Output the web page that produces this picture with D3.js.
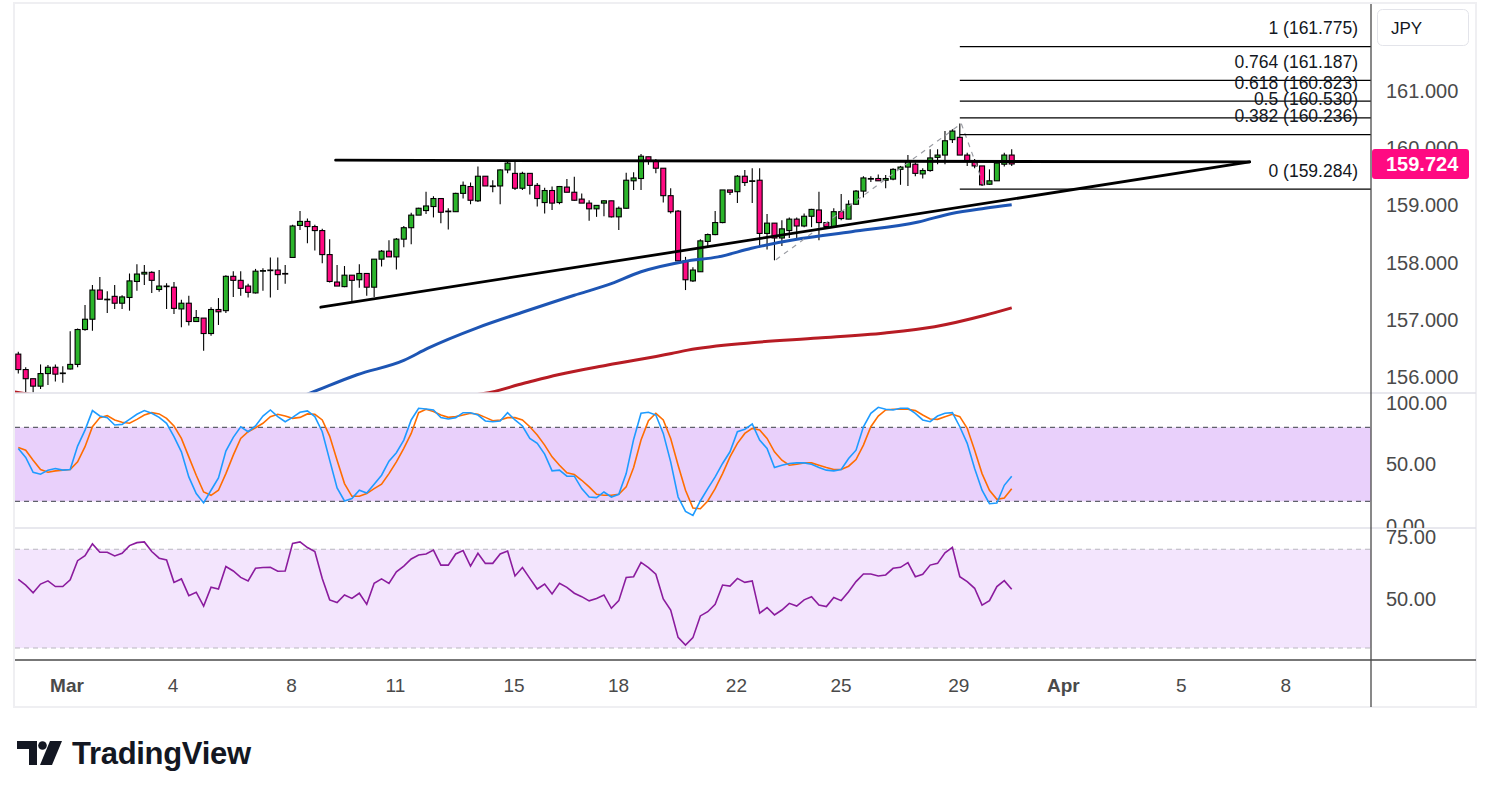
<!DOCTYPE html>
<html>
<head>
<meta charset="utf-8">
<script src="https://cdnjs.cloudflare.com/ajax/libs/d3/7.8.5/d3.min.js"></script>
<style>
  body { margin: 0; background: #fff; }
  svg { display: block; font-family: "Liberation Sans", Arial, sans-serif; }
</style>
</head>
<body>
<div id="chart"></div>
<script>
// Candles, one per bar
var opens = [156.40,156.13,155.97,155.84,156.06,156.17,156.06,156.14,156.22,156.83,
  157.01,157.52,157.36,157.41,157.29,157.39,157.67,157.80,157.83,157.53,
  157.58,157.57,157.19,157.29,156.97,157.03,156.76,157.18,157.16,157.76,
  157.69,157.59,157.47,157.86,157.87,157.87,157.81,158.09,158.65,158.72,
  158.63,158.56,158.14,157.66,157.58,157.78,157.70,157.81,157.57,158.06,
  158.20,158.10,158.41,158.61,158.83,158.91,158.98,159.12,158.90,158.89,
  159.21,159.33,159.08,159.51,159.34,159.34,159.62,159.56,159.30,159.56,
  159.35,159.05,159.26,159.05,159.32,159.23,159.11,159.04,158.94,159.04,
  159.08,158.80,158.95,159.43,159.47,159.85,159.78,159.65,159.17,158.90,
  158.03,157.68,157.84,158.37,158.49,158.70,159.27,159.24,159.51,159.43,
  159.44,158.51,158.69,158.43,158.56,158.76,158.64,158.81,158.92,158.70,
  158.63,158.89,158.76,159.02,159.25,159.47,159.47,159.44,159.46,159.63,
  159.67,159.72,159.55,159.61,159.84,159.88,160.15,160.19,159.88,159.78,
  159.69,159.37,159.43,159.72,159.88];
var highs = [156.44,156.17,155.97,156.22,156.21,156.22,156.19,156.80,156.85,157.26,
  157.61,157.75,157.50,157.61,157.43,157.81,157.97,157.96,157.85,157.87,
  157.64,157.66,157.35,157.42,157.17,157.03,157.22,157.38,157.78,157.85,
  157.85,157.63,157.89,157.90,158.09,158.09,157.96,158.66,158.90,158.77,
  158.66,158.59,158.41,157.96,157.94,157.78,157.97,157.81,158.06,158.22,
  158.39,158.43,158.64,158.87,158.96,159.24,159.16,159.12,158.95,159.22,
  159.42,159.40,159.68,159.51,159.44,159.63,159.76,159.76,159.59,159.56,
  159.39,159.31,159.33,159.34,159.46,159.50,159.21,159.09,159.00,159.09,
  159.08,158.98,159.57,159.58,159.90,159.85,159.81,159.65,159.30,158.92,
  158.10,157.92,158.41,158.51,158.90,159.27,159.27,159.53,159.62,159.65,
  159.65,158.85,158.69,158.74,158.79,158.79,158.86,158.94,159.24,158.71,
  158.95,159.20,159.09,159.27,159.51,159.51,159.54,159.53,159.65,159.69,
  159.88,159.75,159.65,159.98,159.98,160.30,160.33,160.43,159.92,159.81,
  159.69,159.63,159.75,159.92,159.98];
var lows = [156.06,155.72,155.73,155.79,155.86,155.92,155.90,156.13,156.17,156.81,
  156.81,157.36,157.12,157.19,157.19,157.16,157.51,157.61,157.47,157.49,
  157.19,157.10,156.87,156.90,156.96,156.46,156.72,156.91,157.12,157.40,
  157.42,157.39,157.46,157.51,157.39,157.52,157.63,158.09,158.57,158.34,
  158.21,157.99,157.65,157.59,157.57,157.31,157.56,157.42,157.40,157.93,
  158.10,157.88,158.27,158.32,158.83,158.85,158.79,158.69,158.58,158.89,
  159.12,159.02,159.06,159.34,159.23,159.02,159.56,159.27,159.27,159.19,
  158.98,158.86,158.92,159.02,159.23,159.08,159.04,158.73,158.80,158.81,
  158.79,158.57,158.94,159.27,159.27,159.71,159.56,159.05,158.86,158.03,
  157.52,157.66,157.84,158.28,158.48,158.69,159.18,159.04,159.34,159.04,
  158.27,158.23,158.04,158.29,158.43,158.43,158.62,158.62,158.39,158.62,
  158.62,158.74,158.76,159.01,159.14,159.41,159.43,159.30,159.44,159.36,
  159.34,159.51,159.47,159.59,159.72,159.72,160.09,159.88,159.69,159.65,
  159.34,159.36,159.43,159.68,159.69];
var closes = [156.13,155.97,155.84,156.06,156.17,156.05,156.07,156.22,156.83,157.01,
  157.52,157.36,157.36,157.29,157.40,157.68,157.80,157.83,157.69,157.59,
  157.59,157.20,157.29,156.97,157.04,156.76,157.18,157.14,157.76,157.69,
  157.55,157.48,157.85,157.86,157.87,157.79,157.80,158.64,158.72,158.63,
  158.56,158.14,157.67,157.59,157.78,157.69,157.81,157.57,158.06,158.20,
  158.10,158.41,158.61,158.83,158.95,158.99,159.12,158.88,158.90,159.21,
  159.35,159.09,159.51,159.34,159.34,159.62,159.74,159.30,159.56,159.35,
  159.12,159.26,159.04,159.33,159.23,159.09,159.04,158.94,159.00,159.08,
  158.80,158.95,159.44,159.48,159.86,159.78,159.65,159.17,158.89,158.03,
  157.70,157.87,158.38,158.49,158.70,159.27,159.23,159.51,159.40,159.43,
  158.51,158.69,158.43,158.59,158.76,158.64,158.81,158.93,158.70,158.63,
  158.89,158.77,159.02,159.25,159.48,159.47,159.43,159.47,159.63,159.67,
  159.76,159.56,159.61,159.83,159.88,160.13,160.30,159.88,159.78,159.69,
  159.36,159.43,159.74,159.88,159.724];

// Moving averages: [bar index, price] points
var maBlue = [[36,155.55],[39.6,155.73],[45.7,156.04],[52,156.29],[55.2,156.50],[61.9,156.86],
  [68.2,157.14],[75,157.43],[79.5,157.61],[84,157.84],[89.9,158.02],[94.4,158.10],[98.9,158.25],
  [105.6,158.42],[112.4,158.54],[121.4,158.71],[125.9,158.86],[130.4,158.95],[134,159.01]];
var maRed = [[-1,155.75],[4,155.66],[35,155.45],[62.8,155.71],[68.2,155.89],[72.8,156.04],
  [79.5,156.21],[88.1,156.41],[90.3,156.47],[98.9,156.60],[107.9,156.68],[116.9,156.77],
  [123.6,156.88],[130.4,157.08],[134,157.21]];

// Stochastic %K, %D and RSI, one value per bar
var stochK = [62.9,55.6,43.6,42.0,45.3,46.6,45.3,45.8,64.8,77.8,
  93.6,89.2,87.9,81.9,82.4,86.5,90.6,93.6,91.4,88.1,
  83.3,72.4,60.2,39.8,26.3,18.7,29.0,39.0,60.7,71.9,
  80.5,76.5,81.1,89.2,94.1,88.7,84.6,88.1,92.2,93.3,
  88.7,76.5,53.4,30.9,20.3,22.2,29.0,26.8,33.9,41.2,
  52.6,59.4,69.7,86.0,95.5,94.9,94.1,87.9,86.8,87.9,
  91.9,91.9,90.0,85.2,84.6,85.2,91.9,86.0,81.1,71.0,
  67.0,58.3,44.7,45.3,40.4,40.4,30.3,23.5,23.0,27.6,
  23.5,25.7,42.5,70.2,91.4,92.2,90.0,75.1,52.0,23.5,
  11.9,8.6,20.3,30.3,39.8,50.7,60.2,76.5,78.4,82.7,
  69.7,62.9,47.4,49.3,50.7,51.2,51.2,50.1,47.4,45.3,
  44.7,45.8,54.8,61.5,80.5,91.4,96.3,94.7,94.1,95.5,
  95.5,91.4,86.0,84.6,89.2,91.4,91.9,80.5,67.0,46.6,
  29.0,18.1,18.7,33.0,40.4];
var stochD = [63.7,61.5,53.4,45.8,43.6,44.7,45.3,45.8,52.0,64.3,
  80.5,87.9,89.5,86.0,84.1,83.3,86.5,90.0,91.9,90.9,
  87.3,81.1,71.0,56.1,41.2,27.6,24.9,29.0,42.5,57.5,
  71.0,76.5,79.7,83.3,88.7,90.6,89.2,87.3,88.1,90.9,
  90.6,86.0,72.9,53.4,34.4,24.1,24.1,26.3,30.3,33.9,
  42.5,52.0,62.9,75.1,91.9,94.7,92.8,90.0,88.1,88.7,
  90.0,91.4,90.6,88.1,85.4,86.0,87.9,87.9,86.0,80.5,
  73.8,65.6,56.1,49.3,43.1,41.7,37.1,31.7,25.7,24.9,
  24.9,25.7,31.7,47.4,69.7,85.4,91.4,86.0,71.0,49.3,
  29.0,14.6,14.0,20.3,30.3,42.5,56.1,67.0,75.1,79.2,
  77.8,71.0,60.2,53.4,49.3,50.1,51.2,51.2,49.3,47.4,
  45.8,45.8,48.5,53.9,65.6,80.5,89.2,94.1,94.7,94.7,
  94.7,93.6,90.0,86.8,86.5,88.7,90.6,88.7,79.2,61.5,
  42.5,29.0,21.6,22.7,30.3];
var rsi = [57.8,55.5,52.4,55.9,57.2,54.9,54.9,57.6,65.4,67.4,
  72.2,68.8,68.8,67.3,68.4,71.5,72.7,73.0,69.1,66.4,
  65.7,56.6,58.0,51.2,52.6,47.0,54.6,53.9,63.0,61.2,
  58.6,57.2,62.3,62.6,62.7,61.1,61.2,72.4,73.0,70.7,
  69.1,58.2,49.5,48.4,51.5,50.1,52.2,47.7,56.2,58.0,
  56.2,60.9,63.2,66.1,67.7,68.1,69.7,63.6,63.6,68.1,
  69.5,63.2,68.4,64.3,64.3,68.1,69.3,59.2,62.6,58.2,
  53.9,55.9,51.9,56.2,54.6,52.2,50.8,49.1,50.1,51.5,
  46.1,49.2,58.6,58.9,64.7,62.6,59.9,49.9,45.4,34.3,
  31.2,34.2,43.0,44.7,47.7,55.5,55.1,58.2,56.6,57.2,
  44.1,46.4,43.4,45.4,48.1,47.0,49.5,50.8,47.4,46.8,
  50.5,49.2,52.8,56.9,60.0,60.0,59.2,59.6,62.3,62.7,
  64.6,58.9,59.9,63.6,64.3,68.6,70.8,58.9,56.9,54.2,
  47.4,49.2,54.9,57.3,53.8];

// Drawings: triangle trendlines, fib extension
var trendUpper = [[42.8,159.79],[166.1,159.76]];
var trendLower = [[40.8,157.22],[166.1,159.76]];
var fibPath = [[102.2,158.05],[127.2,160.43],[130.2,159.36]];
var fibStart = 127;
var fibRatios = ["1","0.764","0.618","0.5","0.382","0"];
var fibPrices = [161.775,161.187,160.823,160.530,160.236,159.284];
var lastPrice = 159.724;

// Axis ticks
var priceTicks = [156,157,158,159,160,161];
var stochTicks = [0,50,100];
var rsiTicks = [50,75];
var xTickPos = [6.5,20.8,36.8,50.8,66.8,80.9,96.8,110.9,126.8,140.9,156.8,170.9];
var xTickLabels = ["Mar","4","8","11","15","18","22","25","29","Apr","5","8"];

var svgWidth = 1491, svgHeight = 798;
var paneLeft = 15, paneRight = 1371, frameRight = 1476;
var priceTop = 4, priceBottom = 393, stochBottom = 528, rsiBottom = 660, frameBottom = 707;

var green = "#2bb52b", pink = "#ff0a82";
var axisColor = "#4a4a4a";

var svg = d3.select("#chart").append("svg")
  .attr("width", svgWidth)
  .attr("height", svgHeight);

var xScale = d3.scaleLinear().domain([0, opens.length - 1]).range([18.3, 1011.7]);
var yPrice = d3.scaleLinear().domain([156, 161]).range([377, 91]);
var yStoch = d3.scaleLinear().domain([0, 100]).range([526, 402.7]);
var yRsi = d3.scaleLinear().domain([30, 70]).range([648, 549.3]);

// clip areas for panes
var defs = svg.append("defs");
function addClip(id, x, y, w, h) {
  defs.append("clipPath").attr("id", id).append("rect")
    .attr("x", x).attr("y", y).attr("width", w).attr("height", h);
}
addClip("clipPrice", paneLeft, priceTop, paneRight - paneLeft, priceBottom - priceTop);
addClip("clipStoch", paneLeft, priceBottom, paneRight - paneLeft, stochBottom - priceBottom);
addClip("clipRsi", paneLeft, stochBottom, paneRight - paneLeft, rsiBottom - stochBottom);
addClip("clipStochAxis", paneRight, priceBottom, frameRight - paneRight, stochBottom - priceBottom);

// outer frame
svg.append("rect")
  .attr("x", 14).attr("y", 3)
  .attr("width", frameRight - 14).attr("height", frameBottom - 3)
  .attr("fill", "none").attr("stroke", "#efeff2").attr("stroke-width", 2);

// ---------- price pane ----------
var priceG = svg.append("g").attr("clip-path", "url(#clipPrice)");

var candles = opens.map(function(o, i) {
  return {i: i, o: o, h: highs[i], l: lows[i], c: closes[i]};
});

priceG.selectAll(".wick")
  .data(candles)
  .enter()
  .append("line")
  .attr("x1", d => xScale(d.i))
  .attr("x2", d => xScale(d.i))
  .attr("y1", d => yPrice(d.h))
  .attr("y2", d => yPrice(d.l))
  .attr("stroke", "#000")
  .attr("stroke-width", 1.1);

priceG.selectAll(".body")
  .data(candles)
  .enter()
  .append("rect")
  .attr("x", d => xScale(d.i) - 2.5)
  .attr("width", 5)
  .attr("y", d => yPrice(Math.max(d.o, d.c)))
  .attr("height", d => Math.max(0.6, Math.abs(yPrice(d.o) - yPrice(d.c))))
  .attr("fill", d => d.c >= d.o ? green : pink)
  .attr("stroke", "#000")
  .attr("stroke-width", 1.1);

var priceLine = d3.line()
  .x(d => xScale(d[0]))
  .y(d => yPrice(d[1]))
  .curve(d3.curveMonotoneX);

priceG.append("path")
  .attr("d", priceLine(maRed))
  .attr("fill", "none").attr("stroke", "#b71c24").attr("stroke-width", 3);

priceG.append("path")
  .attr("d", priceLine(maBlue))
  .attr("fill", "none").attr("stroke", "#1d55b4").attr("stroke-width", 3);

var straight = d3.line().x(d => xScale(d[0])).y(d => yPrice(d[1]));

priceG.append("path")
  .attr("d", straight(fibPath))
  .attr("fill", "none").attr("stroke", "#9a9ca3")
  .attr("stroke-width", 1.2).attr("stroke-dasharray", "5,5");

[trendUpper, trendLower].forEach(function(t) {
  priceG.append("path")
    .attr("d", straight(t))
    .attr("fill", "none").attr("stroke", "#000")
    .attr("stroke-width", 2.8).attr("stroke-linecap", "round");
});

// fib levels
fibPrices.forEach(function(p, k) {
  priceG.append("line")
    .attr("x1", xScale(fibStart)).attr("x2", paneRight)
    .attr("y1", yPrice(p)).attr("y2", yPrice(p))
    .attr("stroke", "#000").attr("stroke-width", 1.2);
  priceG.append("text")
    .attr("x", 1358)
    .attr("y", yPrice(p) - 12.5)
    .attr("text-anchor", "end")
    .attr("font-size", "17.5px")
    .attr("fill", "#131722")
    .text(fibRatios[k] + " (" + p.toFixed(3) + ")");
});

// ---------- stochastic pane ----------
var stochG = svg.append("g").attr("clip-path", "url(#clipStoch)");

stochG.append("rect")
  .attr("x", paneLeft).attr("width", paneRight - paneLeft)
  .attr("y", yStoch(80)).attr("height", yStoch(20) - yStoch(80))
  .attr("fill", "#e9d0fb");

[80, 20].forEach(function(v) {
  stochG.append("line")
    .attr("x1", paneLeft).attr("x2", paneRight)
    .attr("y1", yStoch(v)).attr("y2", yStoch(v))
    .attr("stroke", "#60626b").attr("stroke-width", 1.1).attr("stroke-dasharray", "5,4");
});

var kLine = d3.line().x((d, i) => xScale(i)).y(d => yStoch(d));
stochG.append("path").attr("d", kLine(stochD))
  .attr("fill", "none").attr("stroke", "#ff6d00").attr("stroke-width", 1.6);
stochG.append("path").attr("d", kLine(stochK))
  .attr("fill", "none").attr("stroke", "#1e9bff").attr("stroke-width", 1.6);

// ---------- RSI pane ----------
var rsiG = svg.append("g").attr("clip-path", "url(#clipRsi)");

rsiG.append("rect")
  .attr("x", paneLeft).attr("width", paneRight - paneLeft)
  .attr("y", yRsi(70)).attr("height", yRsi(30) - yRsi(70))
  .attr("fill", "#f3e5fd");

[70, 30].forEach(function(v) {
  rsiG.append("line")
    .attr("x1", paneLeft).attr("x2", paneRight)
    .attr("y1", yRsi(v)).attr("y2", yRsi(v))
    .attr("stroke", "#b9b7c0").attr("stroke-width", 1.1).attr("stroke-dasharray", "5,4");
});

var rLine = d3.line().x((d, i) => xScale(i)).y(d => yRsi(d));
rsiG.append("path").attr("d", rLine(rsi))
  .attr("fill", "none").attr("stroke", "#8b1c9e").attr("stroke-width", 1.6);

// ---------- separators ----------
[priceBottom, stochBottom].forEach(function(y) {
  svg.append("line")
    .attr("x1", paneLeft).attr("x2", frameRight)
    .attr("y1", y).attr("y2", y)
    .attr("stroke", "#e0e1e8").attr("stroke-width", 1.5);
});
svg.append("line")
  .attr("x1", paneLeft).attr("x2", frameRight)
  .attr("y1", rsiBottom).attr("y2", rsiBottom)
  .attr("stroke", "#4a4a4a").attr("stroke-width", 1.3);
svg.append("line")
  .attr("x1", paneRight).attr("x2", paneRight)
  .attr("y1", priceTop).attr("y2", frameBottom)
  .attr("stroke", "#4a4a4a").attr("stroke-width", 1.3);

// ---------- axes ----------
function styleAxis(g, size) {
  g.select(".domain").remove();
  g.selectAll("text")
    .attr("font-size", size)
    .attr("font-family", "Liberation Sans, Arial, sans-serif")
    .attr("fill", axisColor);
}

var priceAxis = d3.axisRight(yPrice)
  .tickValues(priceTicks)
  .tickFormat(d3.format(".3f"))
  .tickSize(0)
  .tickPadding(15);
svg.append("g")
  .attr("transform", `translate(${paneRight}, 0)`)
  .call(priceAxis)
  .call(g => styleAxis(g, "20px"));

var stochAxis = d3.axisRight(yStoch)
  .tickValues(stochTicks)
  .tickFormat(d3.format(".2f"))
  .tickSize(0)
  .tickPadding(15);
svg.append("g")
  .attr("clip-path", "url(#clipStochAxis)")
  .append("g")
  .attr("transform", `translate(${paneRight}, 0)`)
  .call(stochAxis)
  .call(g => styleAxis(g, "20px"));

var rsiAxis = d3.axisRight(yRsi)
  .tickValues(rsiTicks)
  .tickFormat(d3.format(".2f"))
  .tickSize(0)
  .tickPadding(15);
svg.append("g")
  .attr("transform", `translate(${paneRight}, 0)`)
  .call(rsiAxis)
  .call(g => styleAxis(g, "20px"));

var bottomAxis = d3.axisBottom(xScale)
  .tickValues(xTickPos)
  .tickFormat((d, i) => xTickLabels[i])
  .tickSize(0)
  .tickPadding(19);
svg.append("g")
  .attr("transform", `translate(0, ${rsiBottom})`)
  .call(bottomAxis)
  .call(g => styleAxis(g, "19px"))
  .selectAll("text")
  .attr("font-weight", (d, i) => isNaN(+xTickLabels[i]) ? "bold" : "normal");

// current price tag
svg.append("rect")
  .attr("x", 1372).attr("y", yPrice(lastPrice) - 15)
  .attr("width", 97).attr("height", 30).attr("rx", 3)
  .attr("fill", pink);
svg.append("text")
  .attr("x", 1386).attr("y", yPrice(lastPrice) + 7.5)
  .attr("font-size", "20px").attr("font-weight", "bold")
  .attr("fill", "#fff")
  .text(lastPrice.toFixed(3));

// currency box
svg.append("rect")
  .attr("x", 1377.5).attr("y", 9.5)
  .attr("width", 91).attr("height", 36).attr("rx", 5)
  .attr("fill", "#fff").attr("stroke", "#e3e4ea");
svg.append("text")
  .attr("x", 1391).attr("y", 34)
  .attr("font-size", "17px").attr("fill", "#131722")
  .text("JPY");

// ---------- TradingView logo ----------
var logo = svg.append("g").attr("fill", "#131722");
logo.append("path").attr("d", "M17,741 H37 V765 H29 V749 H17 Z");
logo.append("circle").attr("cx", 42.5).attr("cy", 745.5).attr("r", 4.3);
logo.append("path").attr("d", "M50,741 H62 L52,765 H40 Z");
logo.append("text")
  .attr("x", 72).attr("y", 764)
  .attr("font-size", "31px").attr("font-weight", "bold")
  .attr("letter-spacing", "-0.3")
  .text("TradingView");
</script>
</body>
</html>
